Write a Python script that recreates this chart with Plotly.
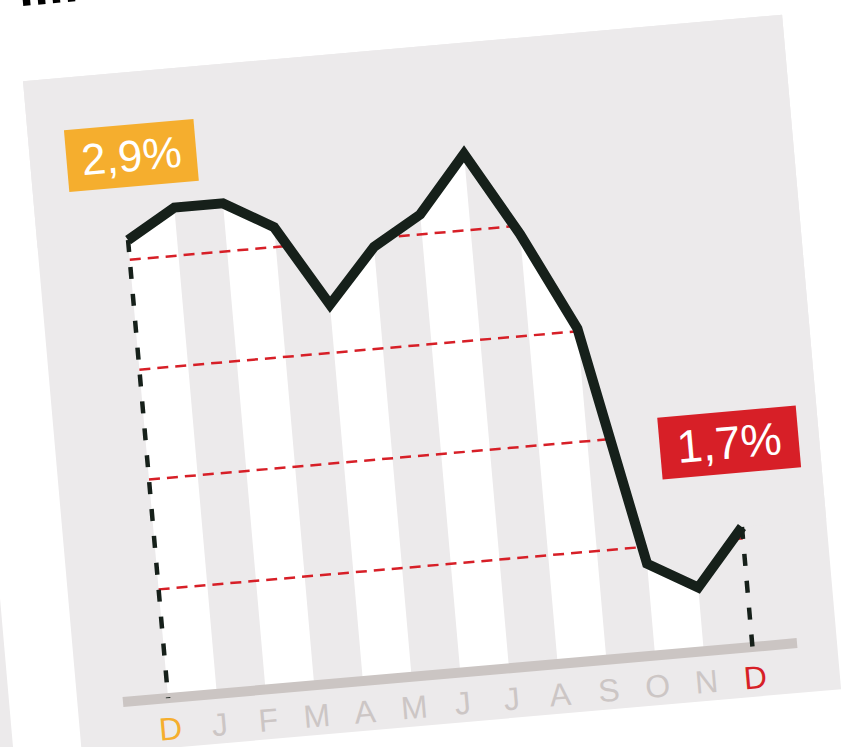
import plotly.graph_objects as go

# ---------------- data ----------------
months = ["D", "J", "F", "M", "A", "M", "J", "J", "A", "S", "O", "N", "D"]
values = [2.9, 3.0, 3.0, 2.9, 2.61, 2.8, 2.9, 3.1, 2.8, 2.45, 1.6, 1.5, 1.7]
grid_levels = [2.83, 2.44, 2.05, 1.66]
label_start = "2,9%"
label_end = "1,7%"
title_fragment = "iiii"

# ---------------- style ----------------
PANEL = "#ECEAEB"
LINE = "#16201A"
ORANGE = "#F5AE2E"
RED = "#D71F27"
BAR = "#CBC5C3"
LABEL_GRAY = "#CCC6C5"
FONT = "Liberation Sans"

BASE = 1.274            # level of the grey baseline bar
LABEL_Y = 1.166         # level of the month letters
Y_RANGE = [1.098, 3.492]
X_RANGE = [-1.858, 13.731]

x = list(range(len(months)))

fig = go.Figure()

# alternating white columns under the curve
for k in range(0, len(x) - 1, 2):
    fig.add_trace(go.Scatter(
        x=[x[k], x[k], x[k + 1], x[k + 1]],
        y=[BASE, values[k], values[k + 1], BASE],
        fill="toself", fillcolor="white", mode="lines",
        line=dict(width=0), hoverinfo="skip"))

# red dashed guide lines
for g in grid_levels:
    fig.add_trace(go.Scatter(
        x=[x[0], x[-1]], y=[g, g], mode="lines",
        line=dict(color=RED, width=2.5, dash="11px,7px"), hoverinfo="skip"))

# panel-coloured cover above the curve (guide lines only show below it);
# it runs past the plot edges so that no seam is left inside the panel
far_left, far_right, far_top = X_RANGE[0] - 2, X_RANGE[1] + 2, Y_RANGE[1] + 1
fig.add_trace(go.Scatter(
    x=[far_left] + x + [far_right, far_right, far_left],
    y=[values[0]] + values + [values[-1], far_top, far_top],
    fill="toself", fillcolor=PANEL, mode="lines",
    line=dict(width=0), hoverinfo="skip"))

# grey baseline bar
fig.add_trace(go.Scatter(
    x=[-0.927, 12.915], y=[BASE, BASE], mode="lines",
    line=dict(color=BAR, width=10), hoverinfo="skip"))

# dashed drop lines at start and end
for i in (0, len(x) - 1):
    fig.add_trace(go.Scatter(
        x=[x[i], x[i]], y=[values[i], BASE], mode="lines",
        line=dict(color=LINE, width=4.5, dash="12px,15px"), hoverinfo="skip"))

# main line
fig.add_trace(go.Scatter(
    x=x, y=values, mode="lines",
    line=dict(color=LINE, width=10), hoverinfo="skip"))

# month letters
for i, m in enumerate(months):
    color = ORANGE if i == 0 else (RED if i == len(months) - 1 else LABEL_GRAY)
    fig.add_annotation(x=x[i], y=LABEL_Y, text=m, showarrow=False,
                       font=dict(family=FONT, size=32, color=color),
                       xanchor="center", yanchor="middle")

# value boxes
fig.add_annotation(x=0.225, y=3.196, text=label_start, showarrow=False,
                   font=dict(family=FONT, size=44, color="white"),
                   bgcolor=ORANGE, width=129, height=61, borderpad=0,
                   xanchor="center", yanchor="middle")
fig.add_annotation(x=11.882, y=2.0, text=label_end, showarrow=False,
                   font=dict(family=FONT, size=46, color="white"),
                   bgcolor=RED, width=138, height=61, borderpad=0,
                   xanchor="center", yanchor="middle")

# cropped heading fragment at the very top (cut off in the reference too)
fig.add_annotation(xref="paper", yref="paper", x=0.0026, y=1.093,
                   text="<b>" + title_fragment + "</b>", showarrow=False,
                   font=dict(family=FONT, size=54, color="black"),
                   borderpad=0, xanchor="left", yanchor="bottom")

# edge of the neighbouring panel
fig.add_shape(type="rect", xref="paper", yref="paper",
              x0=-0.25, x1=-0.0892, y0=-0.25, y1=0.5,
              fillcolor=PANEL, line_width=0, layer="above")

fig.update_layout(
    width=1056, height=947,
    margin=dict(l=150, r=144, t=147, b=123, pad=0),
    paper_bgcolor="white", plot_bgcolor=PANEL,
    showlegend=False,
    xaxis=dict(range=X_RANGE, visible=False, fixedrange=True),
    yaxis=dict(range=Y_RANGE, visible=False, fixedrange=True),
)

post = """
var gd = document.getElementById('{plot_id}');
document.documentElement.style.overflow = 'hidden';
document.body.style.margin = '0';
document.body.style.overflow = 'hidden';
gd.style.position = 'absolute';
gd.style.left = '-100px';
gd.style.top = '-100px';
gd.style.transformOrigin = '528px 473.5px';
gd.style.transform = 'rotate(-5deg)';
"""

fig.write_html("out.html", post_script=post,
               config={"staticPlot": True, "displayModeBar": False})
